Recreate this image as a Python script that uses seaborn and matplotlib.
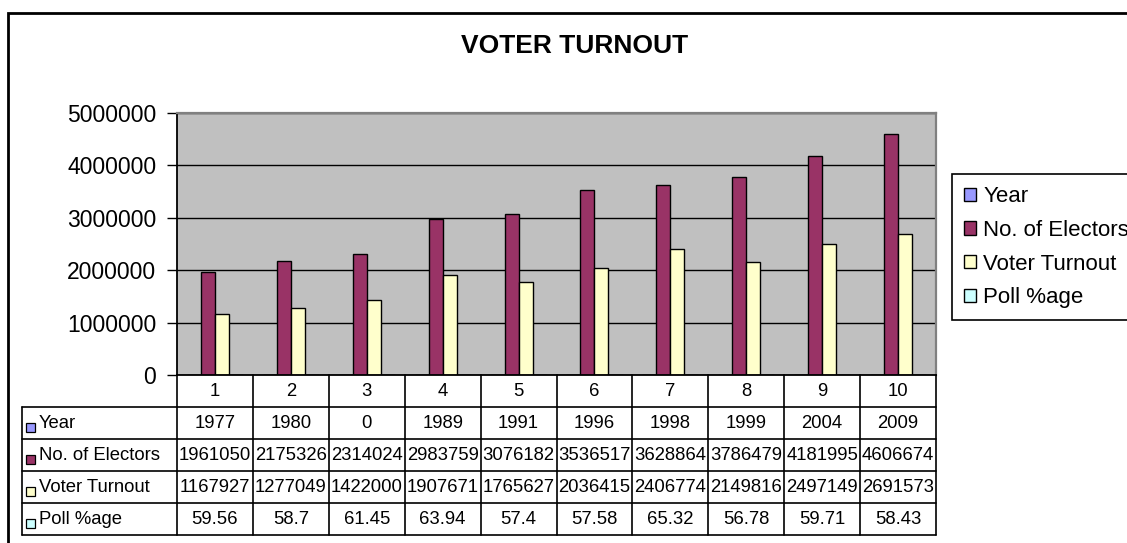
import numpy as np
import pandas as pd
import seaborn as sns
import matplotlib.pyplot as plt
from matplotlib.patches import Patch, Rectangle
from matplotlib.ticker import FuncFormatter

cats = [str(i) for i in range(1, 11)]
series = ["Year", "No. of Electors", "Voter Turnout", "Poll %age"]
years = [1977, 1980, 0, 1989, 1991, 1996, 1998, 1999, 2004, 2009]
electors = [1961050, 2175326, 2314024, 2983759, 3076182, 3536517, 3628864, 3786479, 4181995, 4606674]
turnout = [1167927, 1277049, 1422000, 1907671, 1765627, 2036415, 2406774, 2149816, 2497149, 2691573]
poll = [59.56, 58.7, 61.45, 63.94, 57.4, 57.58, 65.32, 56.78, 59.71, 58.43]
colors = ["#9999FF", "#993366", "#FFFFCC", "#CCFFFF"]

values = [years, electors, turnout, poll]
cell_txt = [[str(v) for v in years], [str(v) for v in electors],
            [str(v) for v in turnout], ["%g" % v for v in poll]]

sns.set_style("white")
plt.rcParams["font.family"] = ["Liberation Sans", "DejaVu Sans"]
plt.rcParams.update({"text.color": "black", "ytick.color": "black",
                     "xtick.color": "black", "axes.labelcolor": "black"})

df = pd.DataFrame({
    "cat": cats * 4,
    "series": np.repeat(series, len(cats)),
    "value": np.concatenate([np.asarray(v, dtype=float) for v in values]),
})

W, H = 1127, 543
def fx(px): return px / W
def fy(py): return 1 - py / H

fig = plt.figure(figsize=(W / 100, H / 100), dpi=100)

# main plot area
ax = fig.add_axes([fx(177), fy(375), fx(936) - fx(177), fy(113) - fy(375)])
sns.barplot(data=df, x="cat", y="value", hue="series", order=cats, hue_order=series,
            palette=colors, saturation=1, width=0.74, edgecolor="black", linewidth=1,
            errorbar=None, legend=False, ax=ax)
ax.set_facecolor("#C0C0C0")
ax.set_xlim(-0.5, 9.5)
ax.set_ylim(0, 5000000)
ax.set_yticks(range(0, 5000001, 1000000))
ax.yaxis.set_major_formatter(FuncFormatter(lambda v, p: "%d" % v))
ax.yaxis.grid(True, color="black", lw=1)
ax.set_axisbelow(True)
ax.tick_params(axis="y", left=True, length=7, width=1, color="black", labelcolor="black",
               labelsize=16.5, pad=8)
ax.tick_params(axis="x", bottom=False, labelbottom=False)
ax.set_xlabel("")
ax.set_ylabel("")
for s in ["left", "bottom"]:
    ax.spines[s].set_color("black")
    ax.spines[s].set_linewidth(1.3)
for s in ["top", "right"]:
    ax.spines[s].set_color("#808080")
    ax.spines[s].set_linewidth(1.6)

# data table under the chart
unit = (936 - 177) / 10
x0 = -0.5 - (177 - 22) / unit
tx = fig.add_axes([fx(22), fy(535), fx(936) - fx(22), fy(375) - fy(535)])
tx.set_xlim(x0, 9.5)
tx.set_ylim(5, 0)
tx.axis("off")
lkw = dict(color="black", lw=1.2, clip_on=False)
for r in range(1, 6):
    tx.plot([x0, 9.5], [r, r], **lkw)
for k in range(11):
    tx.plot([k - 0.5, k - 0.5], [0, 5], **lkw)
tx.plot([x0, x0], [1, 5], **lkw)

fs = 13.3
for i, c in enumerate(cats):
    tx.text(i, 0.5, c, ha="center", va="center", fontsize=fs)
for r, (name, col, row) in enumerate(zip(series, colors, cell_txt), start=1):
    tx.add_patch(Rectangle((x0 + 0.05, r + 0.5), 0.12, 0.28, fc=col, ec="black", lw=0.9))
    tx.text(x0 + 0.22, r + 0.52, name, ha="left", va="center", fontsize=fs)
    for i, t in enumerate(row):
        tx.text(i, r + 0.52, t, ha="center", va="center", fontsize=fs)

# legend
handles = [Patch(facecolor=c, edgecolor="black", lw=1) for c in colors]
leg = fig.legend(handles=handles, labels=series, loc="upper left",
                 bbox_to_anchor=(fx(952), fy(174)), bbox_transform=fig.transFigure,
                 frameon=True, fancybox=False, edgecolor="black", framealpha=1,
                 fontsize=16, handlelength=0.55, handleheight=0.55, handletextpad=0.3,
                 labelspacing=0.57, borderpad=0.55, borderaxespad=0)
leg.get_frame().set_linewidth(1.2)

fig.text(fx(575), fy(46), "VOTER TURNOUT", ha="center", va="center",
         fontsize=19, fontweight="bold", color="black")

# outer chart frame (cut off at right/bottom)
fig.add_artist(Rectangle((fx(8), fy(800)), 2, fy(13) - fy(800), transform=fig.transFigure,
                         fill=False, lw=2, ec="black"))

fig.savefig("out.png", dpi=100)
